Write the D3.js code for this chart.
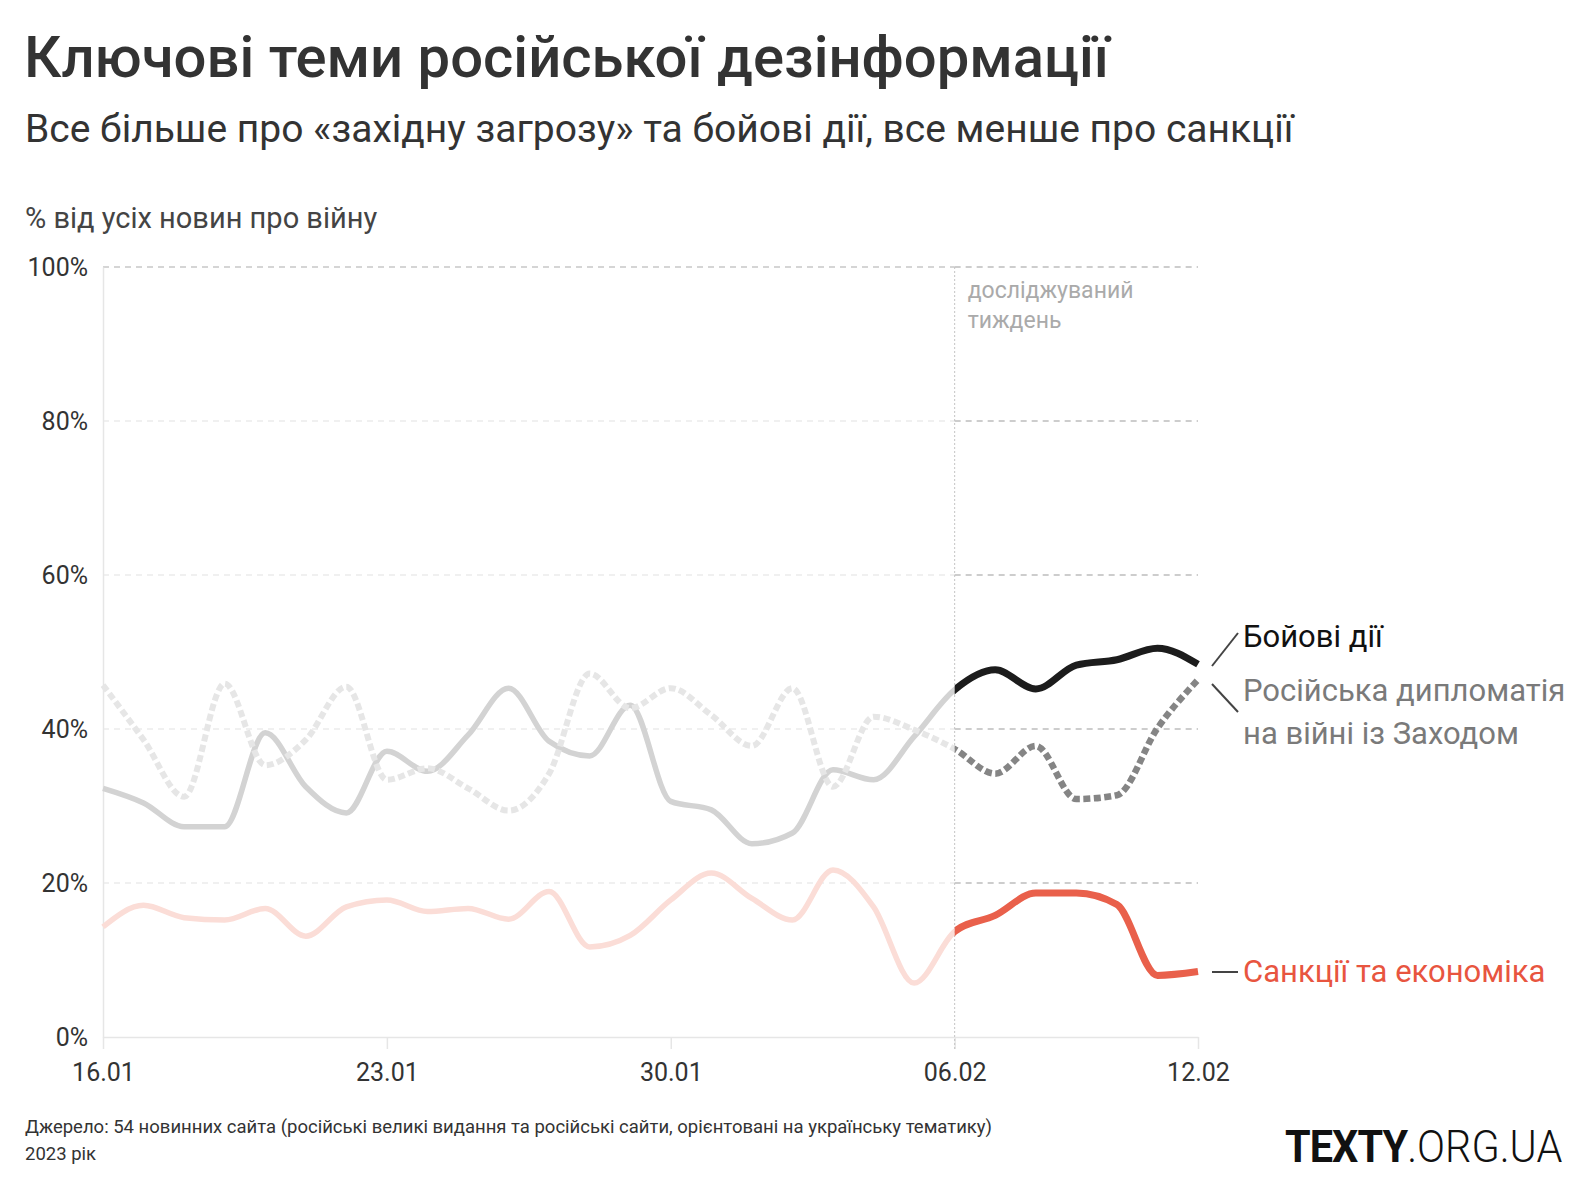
<!DOCTYPE html>
<html><head><meta charset="utf-8">
<script src="https://cdn.jsdelivr.net/npm/d3@7"></script>
<style>
html,body{margin:0;padding:0;background:#fff;}
svg{display:block;}
</style></head>
<body>
<script>
const dates = ["16.01","17.01","18.01","19.01","20.01","21.01","22.01","23.01","24.01","25.01","26.01","27.01","28.01","29.01","30.01","31.01","01.02","02.02","03.02","04.02","05.02","06.02","07.02","08.02","09.02","10.02","11.02","12.02"];
const combat = [32.3,30.4,27.3,27.3,39.5,32.5,29.1,37.1,34.5,39.2,45.3,38.4,36.5,43.1,30.6,29.5,25.1,26.5,34.7,33.4,39.0,45.1,47.7,45.2,48.3,49.0,50.5,48.4];
const diplomacy = [45.7,38.6,31.2,45.9,35.3,38.6,45.5,33.4,34.9,32.3,29.4,34.2,47.2,42.7,45.3,41.8,37.8,45.3,32.5,41.6,39.9,37.4,34.2,37.8,30.9,31.4,40.1,46.4];
const sanctions = [14.3,17.1,15.5,15.2,16.7,13.1,16.9,17.8,16.3,16.7,15.3,18.9,11.7,13.2,17.8,21.3,18.0,15.2,21.7,16.9,7.0,13.7,15.8,18.7,18.7,17.2,8.0,8.5];
const xTickLabels = ["16.01","23.01","30.01","06.02","12.02"];
const yTicks = [0,20,40,60,80,100];
const studyStart = "06.02";

const W = 1584, H = 1194;
const svg = d3.select("body").append("svg").attr("width", W).attr("height", H);

const x = d3.scalePoint().domain(dates).range([103, 1198]);
const y = d3.scaleLinear().domain([0, 100]).range([1037, 267]);
const xs = x(studyStart);

const lab = "Roboto, 'Noto Sans', sans-serif";

// Title
svg.append("text").attr("x", 24).attr("y", 77).text("Ключові теми російської дезінформації")
  .attr("font-family", "Roboto, sans-serif").attr("font-weight", 500).attr("font-size", 58).attr("fill", "#333");
svg.append("text").attr("x", 25).attr("y", 142).text("Все більше про «західну загрозу» та бойові дії, все менше про санкції")
  .attr("font-family", "Roboto, sans-serif").attr("font-size", 39).attr("fill", "#333");
svg.append("text").attr("x", 25).attr("y", 228).text("% від усіх новин про війну")
  .attr("font-family", lab).attr("font-size", 29).attr("fill", "#444");

// Grid
const grid = svg.append("g");
yTicks.filter(t => t > 0).forEach(t => {
  grid.append("line").attr("x1", x(dates[0])).attr("x2", xs).attr("y1", y(t)).attr("y2", y(t))
    .attr("stroke", t === 100 ? "#c8c8c8" : "#ebebeb").attr("stroke-width", 1.5).attr("stroke-dasharray", "6,5");
  grid.append("line").attr("x1", xs).attr("x2", x(dates[dates.length-1])).attr("y1", y(t)).attr("y2", y(t))
    .attr("stroke", "#bdbdbd").attr("stroke-width", 1.5).attr("stroke-dasharray", "6,5");
});
// axes
const yAxis = d3.axisLeft(y).tickValues(yTicks).tickFormat(d => d + "%").tickSize(0).tickPadding(15);
const gy = svg.append("g").attr("transform", `translate(${x(dates[0])},0)`).call(yAxis);
gy.select(".domain").attr("stroke", "#e6e6e6").attr("stroke-width", 1.5);
gy.selectAll("text").attr("font-family", lab).attr("font-size", 25).attr("fill", "#333");

const xAxis = d3.axisBottom(x).tickValues(xTickLabels).tickSize(12).tickSizeOuter(0).tickPadding(14);
const gx = svg.append("g").attr("transform", `translate(0,${y(0)})`).call(xAxis);
gx.select(".domain").attr("stroke", "#e6e6e6").attr("stroke-width", 1.5);
gx.selectAll(".tick line").attr("stroke", "#e6e6e6").attr("stroke-width", 1.5);
gx.selectAll("text").attr("font-family", lab).attr("font-size", 25).attr("fill", "#333");

// study week vertical line
svg.append("line").attr("x1", xs).attr("x2", xs).attr("y1", y(100)).attr("y2", y(0) + 12)
  .attr("stroke", "#c4c4c4").attr("stroke-width", 1).attr("stroke-dasharray", "2,2");
svg.append("text").attr("x", xs + 13).attr("y", 298).text("досліджуваний")
  .attr("font-family", lab).attr("font-size", 23).attr("fill", "#aaa");
svg.append("text").attr("x", xs + 13).attr("y", 328).text("тиждень")
  .attr("font-family", lab).attr("font-size", 23).attr("fill", "#aaa");

// clips
const defs = svg.append("defs");
defs.append("clipPath").attr("id", "clipL").append("rect").attr("x", 0).attr("y", 0).attr("width", xs).attr("height", H);
defs.append("clipPath").attr("id", "clipR").append("rect").attr("x", xs).attr("y", 0).attr("width", W - xs).attr("height", H);

const line = d3.line().x((d, i) => x(dates[i])).y(d => y(d)).curve(d3.curveMonotoneX);

const series = [
  {vals: sanctions, faded: "#fbddd7", strong: "#e9604b", dash: null, wF: 5.5, wS: 7},
  {vals: combat, faded: "#d3d3d3", strong: "#1c1c1c", dash: null, wF: 5.5, wS: 7},
  {vals: diplomacy, faded: "#e6e6e6", strong: "#858585", dash: "7,3.5", wF: 6, wS: 6.5},
];
series.forEach(s => {
  const p1 = svg.append("path").attr("d", line(s.vals)).attr("fill", "none").attr("stroke", s.faded)
    .attr("stroke-width", s.wF).attr("clip-path", "url(#clipL)").attr("stroke-linejoin", "round");
  const p2 = svg.append("path").attr("d", line(s.vals)).attr("fill", "none").attr("stroke", s.strong)
    .attr("stroke-width", s.wS).attr("clip-path", "url(#clipR)").attr("stroke-linejoin", "round");
  if (s.dash) { p1.attr("stroke-dasharray", s.dash); p2.attr("stroke-dasharray", s.dash); }
});

// Labels
const lx = 1243;
const conn = svg.append("g").attr("stroke", "#444").attr("stroke-width", 2);
conn.append("line").attr("x1", 1212).attr("y1", 666).attr("x2", 1238).attr("y2", 633);
conn.append("line").attr("x1", 1212).attr("y1", 684).attr("x2", 1238).attr("y2", 712);
conn.append("line").attr("x1", 1212).attr("y1", 972).attr("x2", 1238).attr("y2", 972);
svg.append("text").attr("x", lx).attr("y", 647).text("Бойові дії")
  .attr("font-family", lab).attr("font-size", 31).attr("fill", "#111");
svg.append("text").attr("x", lx).attr("y", 701).text("Російська дипломатія")
  .attr("font-family", lab).attr("font-size", 31).attr("fill", "#7a7a7a");
svg.append("text").attr("x", lx).attr("y", 744).text("на війні із Заходом")
  .attr("font-family", lab).attr("font-size", 31).attr("fill", "#7a7a7a");
svg.append("text").attr("x", lx).attr("y", 982).text("Санкції та економіка")
  .attr("font-family", lab).attr("font-size", 31).attr("fill", "#e8553f");

// Footer
svg.append("text").attr("x", 25).attr("y", 1133).text("Джерело: 54 новинних сайта (російські великі видання та російські сайти, орієнтовані на українську тематику)")
  .attr("font-family", lab).attr("font-size", 18.5).attr("fill", "#333");
svg.append("text").attr("x", 25).attr("y", 1160).text("2023 рік")
  .attr("font-family", lab).attr("font-size", 18.5).attr("fill", "#333");
const logo = svg.append("g").attr("transform", "translate(1285,1162) scale(0.92,1)")
  .append("text").attr("x", 0).attr("y", 0)
  .attr("font-family", "Roboto, sans-serif").attr("font-size", 45).attr("fill", "#111");
logo.append("tspan").attr("font-weight", 700).attr("letter-spacing", -1).text("TEXTY");
logo.append("tspan").attr("font-weight", 300).text(".ORG.UA");
</script>
</body></html>
